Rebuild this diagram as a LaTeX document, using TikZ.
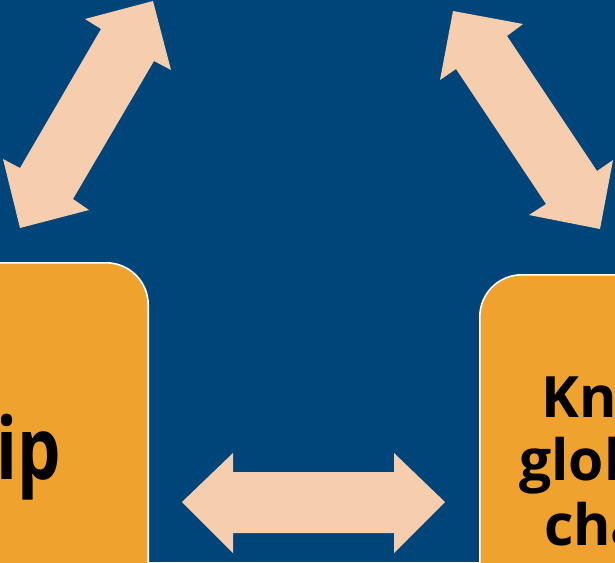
\documentclass[tikz,border=0pt]{standalone}
\usepackage{fontspec}
\setmainfont{Open Sans}
\usepackage{xcolor}
\usepackage{graphicx}
\usepackage{tikz}
\usetikzlibrary{positioning}

\definecolor{navy}{RGB}{0,69,122}
\definecolor{peach}{RGB}{246,206,174}
\definecolor{amber}{RGB}{240,162,46}

\begin{document}
\begin{tikzpicture}[
    x=1pt, y=-1pt,
    topic/.style={
        rectangle, rounded corners=42pt,
        draw=white, line width=1.6pt,
        fill=amber, inner sep=0pt
    },
    link/.style={fill=peach, draw=none},
    label/.style={font=\bfseries, text=black, inner sep=0pt},
]

% Cadre et fond
\useasboundingbox (0,0) rectangle (615,562);
\clip (0,0) rectangle (615,562);
\fill[navy] (0,0) rectangle (615,562);

% Blocs
\node[topic, minimum width=300pt, minimum height=400pt, anchor=north east]
    (lead) at (149,262) {};
\node[topic, minimum width=300pt, minimum height=400pt, anchor=north west]
    (know) at (479,274) {};

% Textes des blocs
\node[label, font=\fontsize{86}{90}\selectfont\bfseries, anchor=base west]
    (leadtxt) at (-4,479) {\scalebox{0.8}[1]{ip}};
\node[label, font=\fontsize{57}{60}\selectfont\bfseries, anchor=base west]
    (knowa) at (541,417) {Kn};
\node[label, font=\fontsize{57}{60}\selectfont\bfseries, anchor=base west]
    (knowb) at (519,480) {glob};
\node[label, font=\fontsize{57}{60}\selectfont\bfseries, anchor=base west]
    (knowc) at (544,545) {cha};

% Fleche haut gauche
\fill[link] (153,1) -- (171,70) -- (154,61) -- (73,199) -- (89,210)
    -- (20,228) -- (3,159) -- (20,168) -- (101,29) -- (85,19) -- cycle;

% Fleche haut droite
\fill[link] (453,11) -- (523,24) -- (507,36) -- (597,171) -- (613,160)
    -- (600,229) -- (529,215) -- (546,204) -- (456,69) -- (440,80) -- cycle;

% Fleche horizontale
\fill[link] (182,502) -- (233,453) -- (233,472) -- (394,472) -- (394,453)
    -- (445,502) -- (394,553) -- (394,533) -- (233,533) -- (233,553) -- cycle;

\end{tikzpicture}
\end{document}
